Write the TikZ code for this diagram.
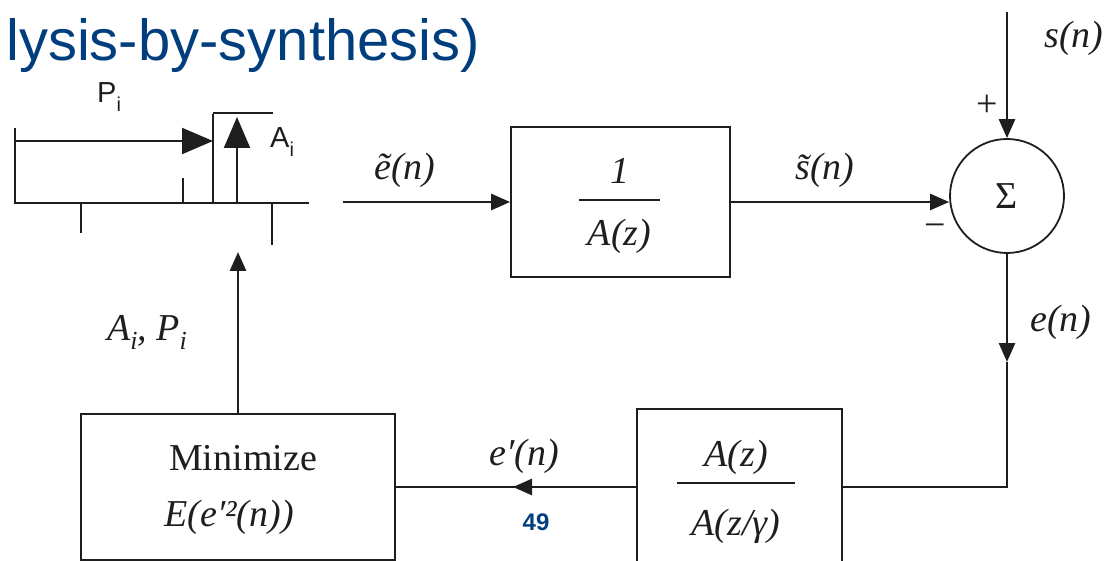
\documentclass[tikz,border=0pt]{standalone}
\usepackage{fontspec}
\setmainfont{Liberation Serif}
\newfontfamily\sansfont{Liberation Sans}
\usetikzlibrary{arrows.meta}
\definecolor{titleblue}{RGB}{0,62,126}
\definecolor{ink}{RGB}{30,30,30}
\newcommand\sbi[1]{\raisebox{-0.25em}{\fontsize{26}{26}\selectfont #1}}
\newcommand\sfsub[1]{\raisebox{-0.3em}{\fontsize{20}{20}\selectfont #1}}
\begin{document}
\begin{tikzpicture}[x=1pt,y=-1pt,
  line/.style={draw=ink, line width=2.8pt},
  arr/.style={line, -{Triangle[length=19pt,width=16pt]}},
  blk/.style={draw=ink, line width=1.8pt, rectangle, inner sep=0pt},
  thinline/.style={draw=ink, line width=2pt},
  bigarr/.style={thinline, -{Triangle[length=31pt,width=26pt]}},
  lbl/.style={font=\fontsize{38}{40}\selectfont\itshape, inner sep=0pt, text=ink},
  rm/.style={font=\fontsize{38}{40}\selectfont, inner sep=0pt, text=ink},
  sf/.style={font=\sansfont\fontsize{29}{30}\selectfont, inner sep=0pt, text=ink},
  fracline/.style={draw=ink, line width=1.6pt}
]
\clip (0,0) rectangle (1111,561);

% title and page number
\node[anchor=base west, inner sep=0pt, font=\sansfont\fontsize{58}{58}\selectfont, text=titleblue] (title) at (6,61) {lysis-by-synthesis)};
\node[anchor=base, inner sep=0pt, font=\sansfont\bfseries\fontsize{24}{24}\selectfont, text=titleblue] (pg) at (536,530) {49};

% blocks
\node[blk, minimum width=219pt, minimum height=150pt] (hA) at (620.5,202) {};
\node[blk, minimum width=314pt, minimum height=146pt] (M) at (238,487) {};
\node[blk, minimum width=205pt, minimum height=156pt] (W) at (739.5,487) {};
\node[circle, draw=ink, line width=1.8pt, minimum size=114pt, inner sep=0pt, rm] (sum) at (1007,196) {Σ};

% block contents
\node[lbl, anchor=base] (hAnum) at (619.5,184) {1};
\draw[fracline] (579,200) -- (660,200);
\node[lbl, anchor=base] (hAden) at (619.5,246) {A(z)};
\node[lbl, anchor=base] (Wnum) at (736,466) {A(z)};
\draw[fracline] (677,483) -- (795,483);
\node[lbl, anchor=base] (Wden) at (736,535) {A(z/γ)};
\node[rm, anchor=base] (min1) at (243,470) {Minimize};
\node[lbl, anchor=base] (min2) at (229,526) {E(e′²(n))};

% pulse train sketch
\draw[thinline] (15,128) -- (15,203) -- (309,203);
\draw[bigarr] (15,141) -- (213,141);
\draw[thinline] (81,203) -- (81,233);
\draw[thinline] (183,203) -- (183,178);
\draw[thinline] (213,203) -- (213,114);
\draw[draw=ink, line width=1.5pt] (213,113) -- (273,113);
\draw[bigarr] (237,203) -- (237,117);
\draw[thinline] (272,203) -- (272,245);
\node[sf, anchor=base west] (Pi) at (97,103) {P\sfsub{i}};
\node[sf, anchor=base west] (Ai) at (270,148) {A\sfsub{i}};

% connectors
\coordinate (pOut) at (343,202);
\coordinate (sIn) at (1007,12);
\coordinate (eTip) at (1007,362);
\coordinate (fb) at (1007,487);
\coordinate (eMid) at (513,487);
\coordinate (pIn) at (238,252);

\draw[arr] (pOut) -- (hA.west);
\draw[arr] (hA.east) -- (hA.east -| sum.west);
\draw[arr] (sIn) -- (sum.north);
\draw[arr] (sum.south) -- (eTip);
\draw[line] (eTip) -- (fb) -- (W.east);
\draw[line] (W.west) -- (M.east);
\draw[arr] (W.west) -- (eMid);
\draw[arr] (M.north) -- (pIn);

% labels
\node[lbl, anchor=base] (le) at (405,180) {\~{e}(n)};
\node[lbl, anchor=base] (ls) at (825,180) {\~{s}(n)};
\node[lbl, anchor=base] (sn) at (1074,48) {s(n)};
\node[rm] (plus) at (987,106) {+};
\node[rm] (minus) at (935,231) {−};
\node[lbl, anchor=base] (en) at (1061,331) {e(n)};
\node[lbl, anchor=base] (epn) at (524,465) {e′(n)};
\node[lbl, anchor=base] (AP) at (147,340) {A\sbi{i}, P\sbi{i}};
\end{tikzpicture}
\end{document}
